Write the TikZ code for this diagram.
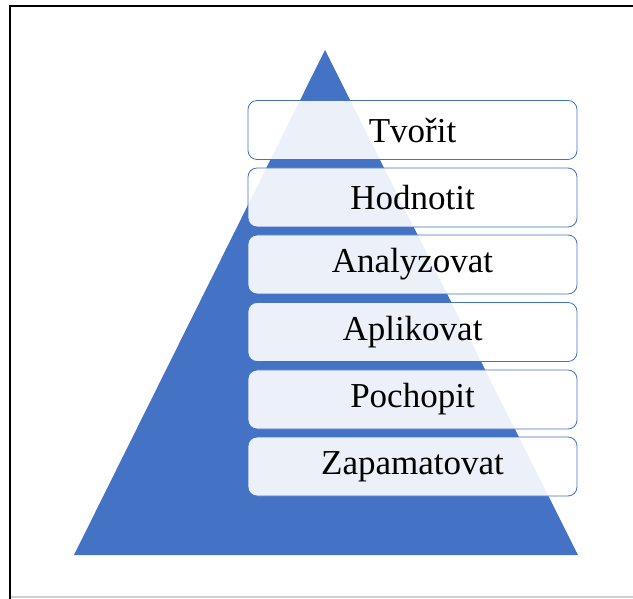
\documentclass[tikz,border=0pt]{standalone}
\usepackage{fontspec}
\setmainfont{Liberation Serif}
\usepackage{tikz}
\usetikzlibrary{positioning}
\definecolor{pyrblue}{HTML}{4472C4}
\definecolor{framegray}{HTML}{D0D0D0}
\tikzset{level/.style={draw=pyrblue, line width=.8pt, fill=white, fill opacity=.9, text opacity=1,
  rounded corners=9pt, minimum width=329pt, minimum height=59pt, inner sep=0pt,
  font=\fontsize{35}{40}\selectfont}}

\begin{document}
\begin{tikzpicture}[x=1pt,y=-1pt]
  \useasboundingbox (0,0) rectangle (633,599);
  % frame
  \draw[framegray, line width=1.5pt] (10,597) -- (633,597);
  \draw[black, line width=2.5pt] (10,599) -- (10,6) -- (633,6);
  % pyramid
  \coordinate (top) at (325,50);
  \coordinate (bl) at (74,555);
  \coordinate (br) at (578,555);
  \fill[pyrblue] (top) -- (br) -- (bl) -- cycle;
  \foreach \y/\lab/\txt in {
    130/l6/Tvořit,
    197.5/l5/Hodnotit,
    264.5/l4/Analyzovat,
    332/l3/Aplikovat,
    399.5/l2/Pochopit,
    466.5/l1/Zapamatovat%
  } {
    \node[level] (\lab) at (412.5,\y) {\txt};
  }
\end{tikzpicture}
\end{document}
